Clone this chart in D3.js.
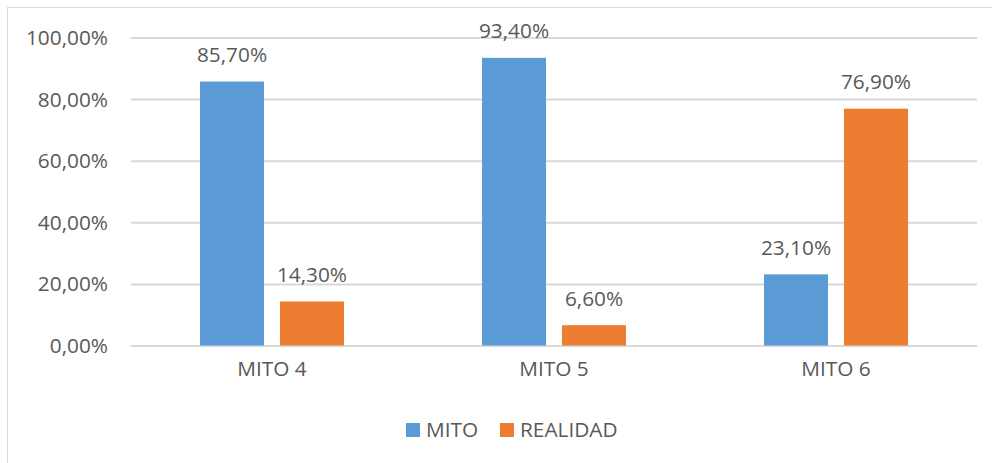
<!DOCTYPE html>
<html><head><meta charset="utf-8">
<script src="https://cdn.jsdelivr.net/npm/d3@7"></script>
<style>body{margin:0;background:#fff}svg{display:block}text{font-family:"Open Sans",sans-serif;fill:#595959}</style>
</head><body>
<svg id="c" width="992" height="463"></svg>
<script>
const categories = ["MITO 4", "MITO 5", "MITO 6"];
const seriesNames = ["MITO", "REALIDAD"];
const mito = [0.857, 0.934, 0.231];
const realidad = [0.143, 0.066, 0.769];
const yTicks = [0, 0.2, 0.4, 0.6, 0.8, 1.0];
const colors = ["#5b9bd5", "#ed7d31"];

const svg = d3.select("#c");
const fmt = v => d3.format(".2f")(v * 100).replace(".", ",") + "%";
const fs = 20.8;

svg.append("rect").attr("x", 7.5).attr("y", 7.5).attr("width", 1000).attr("height", 1000)
  .attr("fill", "none").attr("stroke", "#d9d9d9").attr("stroke-width", 1);

const pLeft = 131, pRight = 977, pTop = 37.5, pBottom = 345.5;
const x = d3.scaleBand().domain(categories).range([pLeft, pRight]).padding(0);
const y = d3.scaleLinear().domain([0, 1]).range([pBottom, pTop]);

const yAxis = svg.append("g").attr("transform", `translate(${pLeft},0)`)
  .call(d3.axisLeft(y).tickValues(yTicks).tickFormat(fmt).tickSize(-(pRight - pLeft)).tickPadding(23));
yAxis.select(".domain").remove();
yAxis.selectAll("line").attr("stroke", "#d9d9d9").attr("stroke-width", 2);
yAxis.selectAll("text").attr("font-size", fs).attr("fill", "#595959").attr("font-family", "Open Sans").attr("dy", "0.34em");

const xAxis = svg.append("g").attr("transform", `translate(0,${pBottom})`)
  .call(d3.axisBottom(x).tickSize(0).tickPadding(16));
xAxis.select(".domain").remove();
xAxis.selectAll("text").attr("font-size", fs).attr("fill", "#595959").attr("font-family", "Open Sans");

const bw = 64, gap = 16;
const data = categories.map((c, i) => [mito[i], realidad[i]]);
const inner = d3.scaleBand().domain([0, 1]).range([-(bw + gap / 2), bw + gap / 2]).paddingInner(gap / (bw + gap)).paddingOuter(0);
const groups = svg.append("g").selectAll("g").data(categories).join("g")
  .attr("transform", d => `translate(${x(d) + x.bandwidth() / 2},0)`);
groups.each(function(c, i) {
  const g = d3.select(this);
  data[i].forEach((v, s) => {
    g.append("rect").attr("x", inner(s)).attr("width", inner.bandwidth())
      .attr("y", y(v)).attr("height", y(0) - y(v)).attr("fill", colors[s]);
    g.append("text").attr("x", inner(s) + inner.bandwidth() / 2).attr("y", y(v) - 19.5)
      .attr("text-anchor", "middle").attr("font-size", fs).text(fmt(v));
  });
});

const legendItems = [{x: 406, tx: 426}, {x: 500, tx: 520}];
const lg = svg.append("g");
seriesNames.forEach((n, i) => {
  lg.append("rect").attr("x", legendItems[i].x).attr("y", 423).attr("width", 14).attr("height", 14).attr("fill", colors[i]);
  lg.append("text").attr("x", legendItems[i].tx).attr("y", 436.5).attr("font-size", fs).text(n);
});
</script>
</body></html>
